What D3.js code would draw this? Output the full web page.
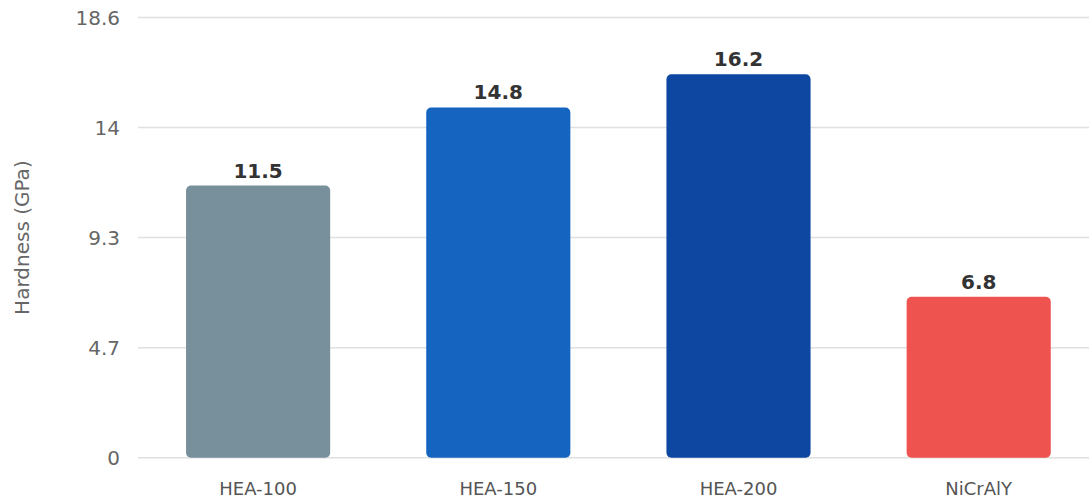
<!DOCTYPE html>
<html>
<head>
<meta charset="utf-8">
<script src="https://cdn.jsdelivr.net/npm/d3@7"></script>
<style>
  body { margin: 0; background: #fff; }
  svg { display: block; font-family: "DejaVu Sans", sans-serif; }
</style>
</head>
<body>
<svg id="chart" width="1089" height="499"></svg>
<script>
var categories = ["HEA-100", "HEA-150", "HEA-200", "NiCrAlY"];
var hardness = [11.5, 14.8, 16.2, 6.8];
var barColors = ["#78909C", "#1565C0", "#0D47A1", "#EF5350"];
var yMax = 18.6;
var yTicks = [0, 4.65, 9.3, 13.95, 18.6];
var yTickLabels = ["0", "4.7", "9.3", "14", "18.6"];

var svg = d3.select("#chart");
var plotLeft = 138, plotTop = 17.5, plotBottom = 457.7;

var x = d3.scaleBand()
  .domain(categories)
  .range([plotLeft, 1098.8])
  .paddingInner(0.4)
  .paddingOuter(0.2);

var y = d3.scaleLinear()
  .domain([0, yMax])
  .range([plotBottom, plotTop]);

// gridlines
svg.append("g")
  .selectAll("line")
  .data(yTicks)
  .enter()
  .append("line")
  .attr("x1", plotLeft)
  .attr("x2", 1089)
  .attr("y1", function(d){ return y(d); })
  .attr("y2", function(d){ return y(d); })
  .attr("stroke", "#e0e0e0")
  .attr("stroke-width", 1.5);

// y tick labels
svg.append("g")
  .selectAll("text")
  .data(yTicks)
  .enter()
  .append("text")
  .attr("x", 120)
  .attr("y", function(d){ return y(d); })
  .attr("dy", "0.35em")
  .attr("text-anchor", "end")
  .attr("fill", "#666")
  .style("font-size", "20px")
  .text(function(d, i){ return yTickLabels[i]; });

// y title
svg.append("text")
  .attr("transform", "translate(29," + ((plotTop + plotBottom) / 2) + ") rotate(-90)")
  .attr("text-anchor", "middle")
  .attr("fill", "#666")
  .style("font-size", "20px")
  .text("Hardness (GPa)");

// bars
svg.append("g")
  .selectAll("rect")
  .data(hardness)
  .enter()
  .append("rect")
  .attr("x", function(d, i){ return x(categories[i]); })
  .attr("y", function(d){ return y(d); })
  .attr("width", x.bandwidth())
  .attr("height", function(d){ return plotBottom - y(d); })
  .attr("rx", 5)
  .attr("fill", function(d, i){ return barColors[i]; });

// value labels
svg.append("g")
  .selectAll("text")
  .data(hardness)
  .enter()
  .append("text")
  .attr("x", function(d, i){ return x(categories[i]) + x.bandwidth() / 2; })
  .attr("y", function(d){ return y(d) - 8; })
  .attr("text-anchor", "middle")
  .attr("fill", "#333")
  .style("font-size", "20px")
  .style("font-weight", "bold")
  .text(function(d){ return d.toFixed(1); });

// x labels
svg.append("g")
  .selectAll("text")
  .data(categories)
  .enter()
  .append("text")
  .attr("x", function(d){ return x(d) + x.bandwidth() / 2; })
  .attr("y", 495)
  .attr("text-anchor", "middle")
  .attr("fill", "#555")
  .style("font-size", "18px")
  .text(function(d){ return d; });
</script>
</body>
</html>
